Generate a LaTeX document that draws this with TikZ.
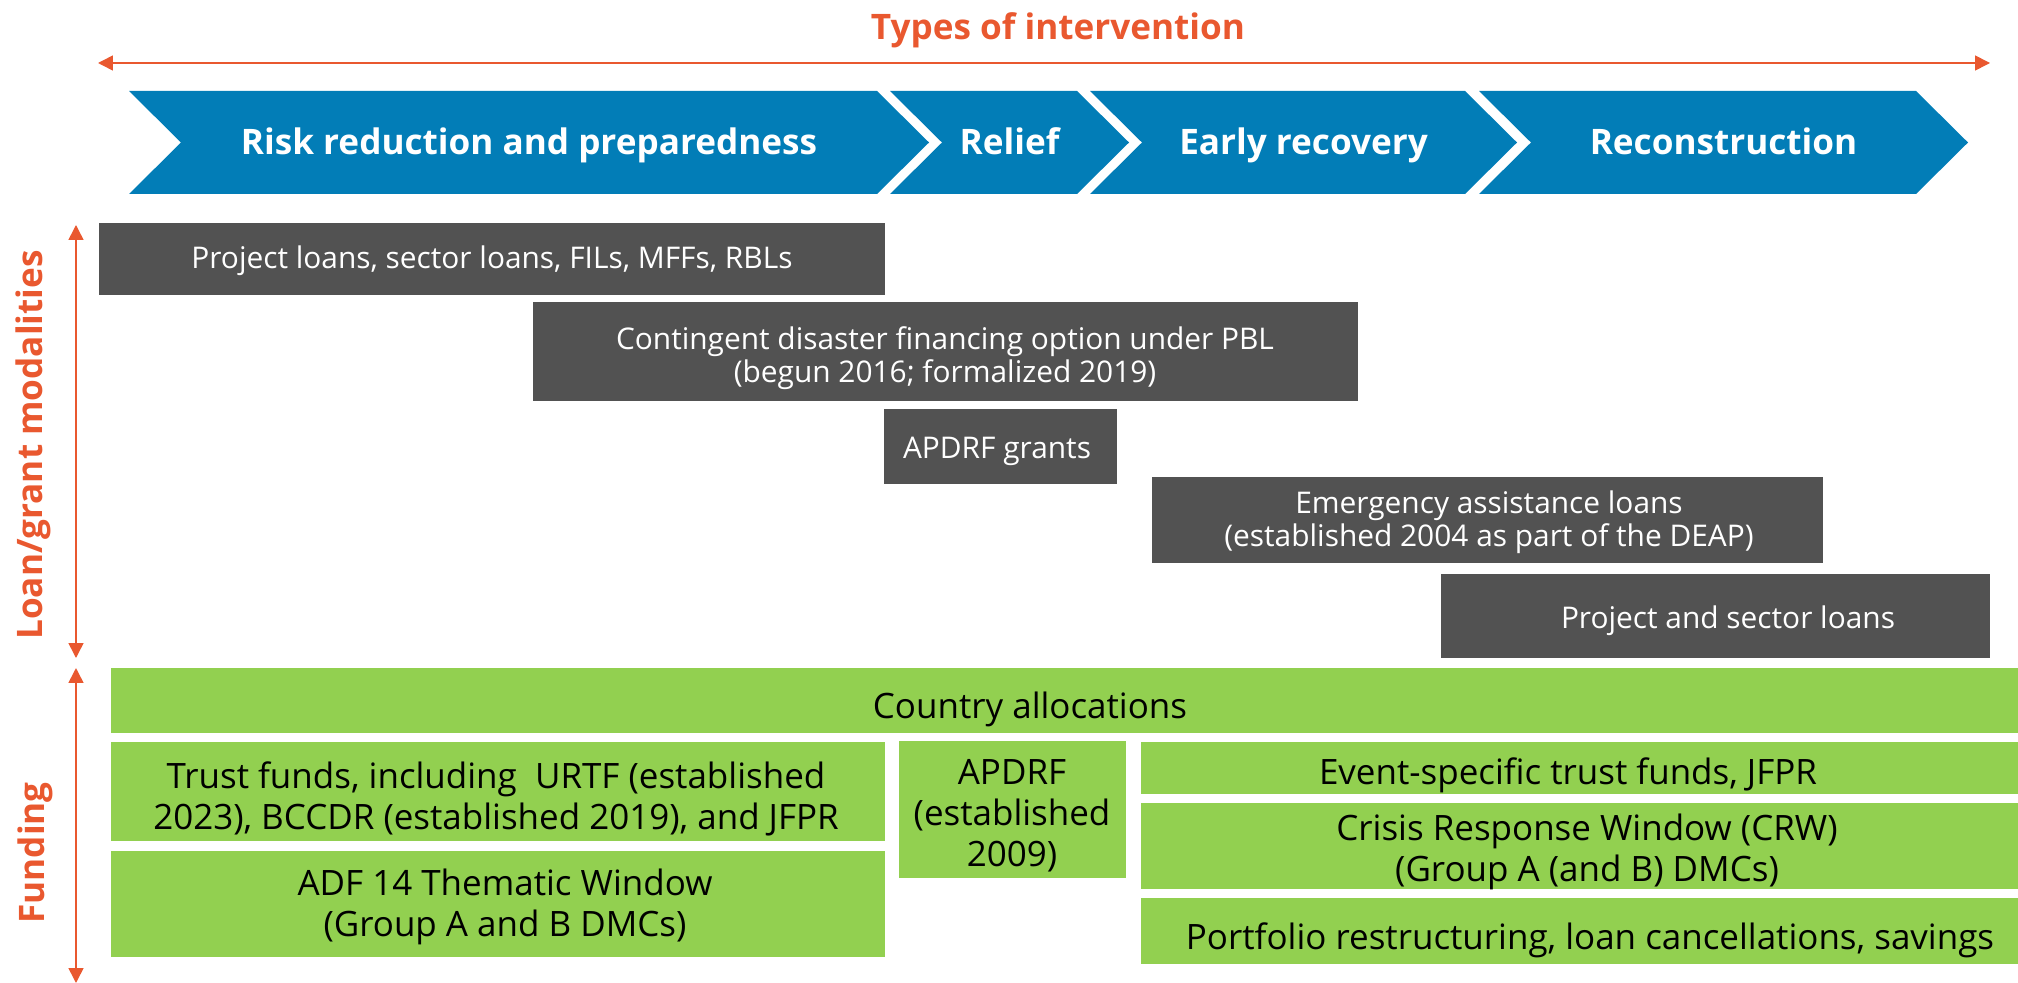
\documentclass[tikz,border=0pt]{standalone}
\usepackage{fontspec}
\setmainfont{Open Sans}
\usepackage{tikz}
\usetikzlibrary{arrows.meta}
\definecolor{chevblue}{HTML}{027DB7}
\definecolor{axisorange}{HTML}{E9582F}
\definecolor{loangray}{HTML}{525252}
\definecolor{fundgreen}{HTML}{92D050}

\tikzset{
  axis arrow/.style={draw=axisorange, line width=0.9pt,
    {Triangle[length=8.5pt,width=8.5pt]}-{Triangle[length=8.5pt,width=8.5pt]}},
  axis label/.style={text=axisorange, font=\bfseries\fontsize{20}{24}\selectfont},
  stage label/.style={text=white, font=\bfseries\fontsize{20}{24}\selectfont},
  loan text/.style={text=white, align=center, inner sep=0pt,
    font=\fontsize{17}{18.8}\selectfont},
  fund text/.style={text=black, align=center, inner sep=0pt,
    font=\fontsize{19.9}{23.3}\selectfont},
}

\begin{document}
\begin{tikzpicture}[x=0.02cm, y=-0.02cm]
\useasboundingbox (0,0) rectangle (2018,983);

% Title and time axis
\node[axis label, anchor=base] (types) at (1058,40) {Types of intervention};
\coordinate (typesL) at (98,63);
\coordinate (typesR) at (1990,63);
\draw[axis arrow] (typesL) -- (typesR);

% Intervention stages (chevrons)
\foreach \a/\b/\nm/\txt in {129/877/risk/{Risk reduction and preparedness},
    890/1077/relief/Relief, 1090/1465/early/{Early recovery},
    1479/1916/recon/Reconstruction} {
  \fill[chevblue] (\a,91) -- (\b,91) -- (\b+52,142.5) -- (\b,194) -- (\a,194) -- (\a+52,142.5) -- cycle;
  \node[stage label, anchor=base] (\nm) at ({(\a+52+\b)/2},155) {\txt};
}

% Side axes
\node[axis label, rotate=90, anchor=base] (modal) at (42,445) {Loan/grant modalities};
\coordinate (modalT) at (76,225);
\coordinate (modalB) at (76,658);
\draw[axis arrow] (modalT) -- (modalB);

\node[axis label, rotate=90, anchor=base] (fund) at (44,853) {Funding};
\coordinate (fundT) at (76,668);
\coordinate (fundB) at (76,983);
\draw[axis arrow] (fundT) -- (fundB);

% Loan/grant modalities
\fill[loangray] (99,223) rectangle (885,295);
\node[loan text] (projloans) at (492,261) {Project loans, sector loans, FILs, MFFs, RBLs};
\fill[loangray] (533,302) rectangle (1358,401);
\node[loan text] (contingent) at (945,358) {Contingent disaster financing option under PBL\\(begun 2016; formalized 2019)};
\fill[loangray] (884,409) rectangle (1117,484);
\node[loan text] (apdrfgr) at (997,451) {APDRF grants};
\fill[loangray] (1152,477) rectangle (1823,563);
\node[loan text] (emergency) at (1489,522) {Emergency assistance loans\\(established 2004 as part of the DEAP)};
\fill[loangray] (1441,574) rectangle (1990,658);
\node[loan text] (projsector) at (1728,621) {Project and sector loans};

% Funding
\fill[fundgreen] (111,668) rectangle (2018,733);
\node[fund text] (country) at (1030,709) {Country allocations};
\fill[fundgreen] (111,742) rectangle (885,841);
\node[fund text] (trust) at (496,799) {Trust funds, including\ \ URTF (established\\2023), BCCDR (established 2019), and JFPR};
\fill[fundgreen] (111,851) rectangle (885,957);
\node[fund text] (adf) at (505,907) {ADF 14 Thematic Window\\(Group A and B DMCs)};
\fill[fundgreen] (899,741) rectangle (1126,878);
\node[fund text] (apdrf) at (1012,816) {APDRF\\(established\\2009)};
\fill[fundgreen] (1141,742) rectangle (2018,794);
\node[fund text] (event) at (1568,775) {Event-specific trust funds, JFPR};
\fill[fundgreen] (1141,803) rectangle (2018,889);
\node[fund text] (crisis) at (1587,852) {Crisis Response Window (CRW)\\(Group A (and B) DMCs)};
\fill[fundgreen] (1141,898) rectangle (2018,964);
\node[fund text] (portfolio) at (1590,940) {Portfolio restructuring, loan cancellations, savings};

\end{tikzpicture}
\end{document}
